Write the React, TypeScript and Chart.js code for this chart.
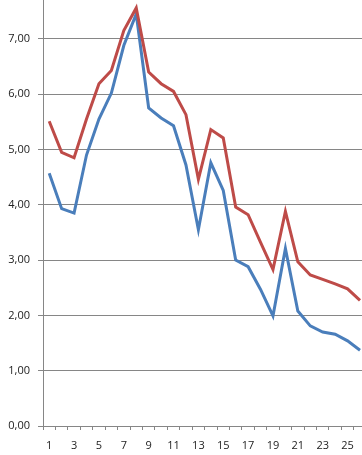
import React, { useEffect, useRef } from "react";
import { Chart, registerables } from "chart.js";

Chart.register(...registerables);

const categories = Array.from({ length: 26 }, (_, i) => String(i + 1));
const redSeries = [5.51, 4.95, 4.85, 5.55, 6.19, 6.43, 7.15, 7.56, 6.4, 6.19, 6.05, 5.63, 4.46, 5.36, 5.21, 3.96, 3.82, 3.32, 2.83, 3.88, 2.97, 2.73, 2.65, 2.57, 2.48, 2.27];
const blueSeries = [4.57, 3.93, 3.85, 4.9, 5.55, 6.02, 6.88, 7.45, 5.75, 5.57, 5.43, 4.72, 3.55, 4.76, 4.26, 3.0, 2.88, 2.47, 1.99, 3.21, 2.08, 1.81, 1.7, 1.66, 1.54, 1.37];
const yMin = 0;
const yMax = 8;
const yStep = 1;

export default function App() {
  const ref = useRef<HTMLCanvasElement | null>(null);
  useEffect(() => {
    if (!ref.current) return;
    const grid = "#868686";
    const font = { family: "'Open Sans', sans-serif", size: 11 };
    const chart = new Chart(ref.current, {
      type: "line",
      data: {
        labels: categories,
        datasets: [
          { label: "A", data: redSeries, borderColor: "#BE4B48", borderWidth: 3, pointRadius: 0, tension: 0, fill: false },
          { label: "B", data: blueSeries, borderColor: "#4A7EBB", borderWidth: 3, pointRadius: 0, tension: 0, fill: false },
        ],
      },
      options: {
        animation: false,
        responsive: true,
        maintainAspectRatio: false,
        layout: { padding: { top: 6, left: 0, right: 0, bottom: 0 } },
        plugins: { legend: { display: false }, tooltip: { enabled: false } },
        scales: {
          x: {
            type: "category",
            offset: true,
            grid: { offset: true, drawOnChartArea: false, drawTicks: true, tickLength: 4, color: grid },
            border: { display: true, color: grid },
            ticks: {
              autoSkip: false,
              maxRotation: 0,
              padding: 9,
              color: "#222",
              font,
              callback: (_v: any, i: number) => (i % 2 === 0 ? categories[i] : ""),
            },
            afterFit: (s: any) => { s.height = 30; },
          },
          y: {
            min: yMin,
            max: yMax,
            grid: { color: grid, drawTicks: true, tickLength: 5 },
            border: { display: true, color: grid },
            ticks: {
              stepSize: yStep,
              padding: 8,
              color: "#222",
              font,
              callback: (v: any) => Number(v).toFixed(2).replace(".", ","),
            },
            afterFit: (s: any) => { s.width = 43; },
          },
        },
      },
    });
    return () => chart.destroy();
  }, []);
  return (
    <div style={{ position: "fixed", left: 0, top: 0, width: 362, height: 455, overflow: "hidden", background: "#fff" }}>
      <div style={{ position: "absolute", left: 0, top: -31, width: 369, height: 487 }}>
        <canvas ref={ref} />
      </div>
    </div>
  );
}
